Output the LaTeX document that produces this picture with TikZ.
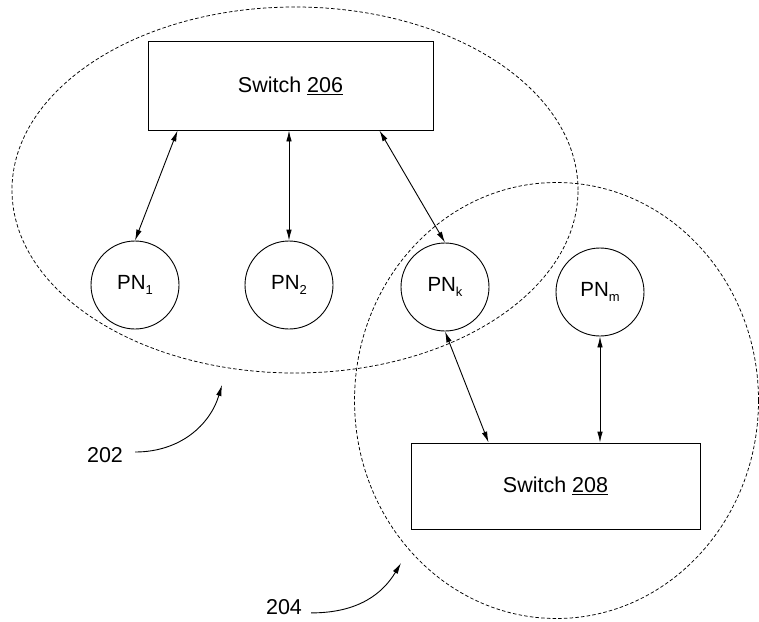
\documentclass[tikz,border=0pt]{standalone}
\usepackage{fontspec}
\setmainfont{Liberation Sans}
\usetikzlibrary{arrows.meta,calc}
\newcommand\pnsub[1]{\raisebox{-5.5pt}{\fontsize{13}{13}\selectfont #1}}
\tikzset{
  boxnode/.style={draw, line width=0.9pt, rectangle, inner sep=0pt, font=\fontsize{21.5}{24}\selectfont},
  pnnode/.style={draw, line width=0.9pt, circle, minimum size=88pt, inner sep=0pt, font=\fontsize{20.5}{24}\selectfont},
  lbl/.style={font=\fontsize{21.5}{24}\selectfont, inner sep=0pt},
  dashline/.style={line width=0.75pt, dash pattern=on 3.5pt off 2.2pt},
  biarrow/.style={line width=0.9pt, {Latex[length=11pt,width=5.5pt]}-{Latex[length=11pt,width=5.5pt]}},
  curvearrow/.style={line width=0.9pt, -{Latex[length=11pt,width=5.5pt]}}
}
\begin{document}
\begin{tikzpicture}[x=1pt,y=-1pt]
\useasboundingbox (0,0) rectangle (759,621);
% groups
\draw[dashline] (295,190) ellipse [x radius=283pt, y radius=183pt];
\draw[dashline] (556.5,400.5) ellipse [x radius=202pt, y radius=218pt];
% switches
\node[boxnode, minimum width=285pt, minimum height=89pt] (sw206) at (290.5,85.5) {Switch \underline{206}};
\node[boxnode, minimum width=289pt, minimum height=86pt] (sw208) at (555.5,486) {Switch \underline{208}};
% processing nodes
\node[pnnode] (pn1) at (135,285) {PN\pnsub{1}};
\node[pnnode] (pn2) at (289,285) {PN\pnsub{2}};
\node[pnnode] (pnk) at (445,287) {PN\pnsub{k}};
\node[pnnode] (pnm) at (600,292) {PN\pnsub{m}};
% connectors
\draw[biarrow] ([xshift=30pt]sw206.south west) -- (pn1.north);
\draw[biarrow] (sw206.south -| pn2.north) -- (pn2.north);
\draw[biarrow] ([xshift=-54pt]sw206.south east) -- (pnk.north);
\draw[biarrow] (pnk.south) -- ([xshift=78pt]sw208.north west);
\draw[biarrow] (pnm.south) -- (pnm.south |- sw208.north);
% labels
\node[lbl] (l202) at (105,455) {202};
\coordinate (t202) at (222,385);
\draw[curvearrow] ([xshift=12pt,yshift=3pt]l202.east) .. controls +(45,0) and +(-12,40) .. (t202);
\node[lbl] (l204) at (284,607) {204};
\coordinate (t204) at (401,563);
\draw[curvearrow] ([xshift=9pt,yshift=1.5pt]l204.base east) .. controls +(48,0) and +(-18,30) .. (t204);
\end{tikzpicture}
\end{document}
